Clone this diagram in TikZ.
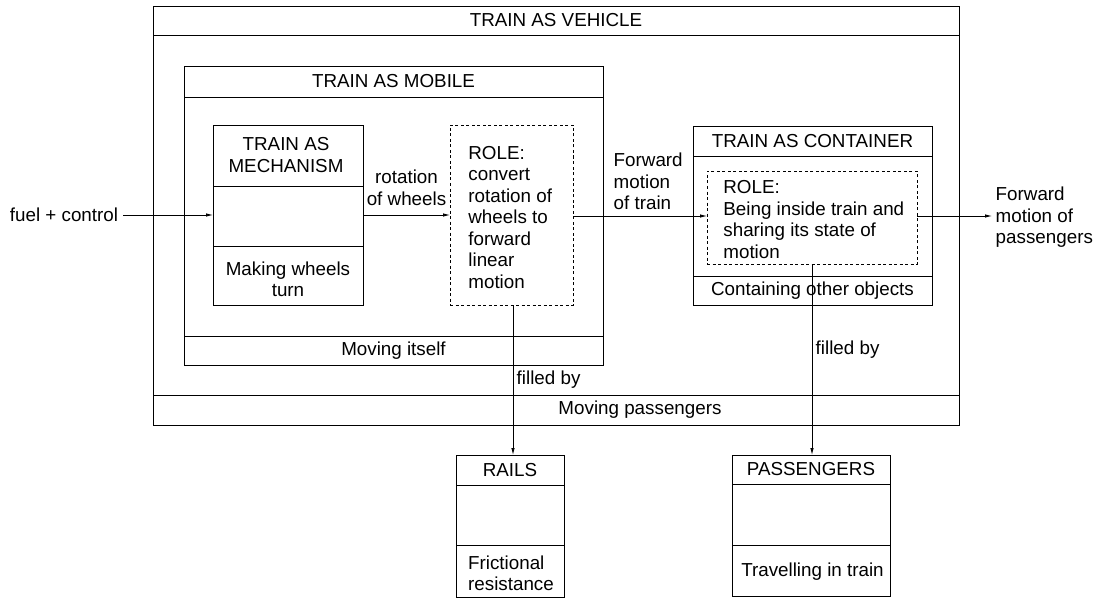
\documentclass[tikz,border=0pt]{standalone}
\usepackage{fontspec}
\setmainfont{Liberation Sans}
\usetikzlibrary{arrows.meta}

\begin{document}
\begin{tikzpicture}[x=1pt,y=-1pt,line width=0.8pt,
    font=\fontsize{18.8}{21.5}\selectfont,
    box/.style 2 args={draw, minimum width=#1, minimum height=#2, inner sep=0pt, outer sep=0pt},
    rolebox/.style 2 args={box={#1}{#2}, dash pattern=on 3pt off 2.5pt},
    arr/.style={-{Latex[length=7pt,width=3.5pt]}}]
    \useasboundingbox (0,0) rectangle (1095,599);

    % Draw the frames
    \node[box={806}{419}] (vehicle) at (556,215.5) {};
    \node[box={419}{299}] (mobile) at (393.5,215.5) {};
    \node[box={150}{180}] (mech) at (288,215) {};
    \node[rolebox={123}{180}] (mobrole) at (511.5,215) {};
    \node[box={239}{179}] (container) at (812.5,215.5) {};
    \node[rolebox={210}{93}] (conrole) at (812,217.5) {};
    \node[box={108}{142}] (rails) at (510,526) {};
    \node[box={158}{141}] (passengers) at (811,525.5) {};

    % Draw the dividers
    \foreach \b/\y in {vehicle/35, vehicle/395, mobile/97, mobile/336, mech/186, mech/246,
        container/156, container/276, rails/485, rails/545, passengers/484, passengers/545}
        \draw (\b.west |- 0,\y) -- (\b.east |- 0,\y);

    % Titles and roles
    \node (vehtitle) at (556,20.5) {TRAIN AS VEHICLE};
    \node (vehrole) at (640,410) {Moving passengers};
    \node (mobtitle) at (393.5,81.5) {TRAIN AS MOBILE};
    \node (mobfill) at (393.5,350.5) {Moving itself};
    \node[align=center] (mechtitle) at (286,155) {TRAIN AS\\MECHANISM};
    \node[align=center] (mechfill) at (288,279.5) {Making wheels\\turn};
    \node[anchor=west, align=left, inner sep=0pt] (mobroletext) at (468,217.5)
        {ROLE:\\convert\\rotation of\\wheels to\\forward\\linear\\motion};
    \node (contitle) at (812.5,141) {TRAIN AS CONTAINER};
    \node (confill) at (812.5,290.5) {Containing other objects};
    \node[anchor=west, align=left, inner sep=0pt] (conroletext) at (723,219.5)
        {ROLE:\\Being inside train and\\sharing its state of\\motion};
    \node (railtitle) at (510,470) {RAILS};
    \node[align=left] (railfill) at (511,573.5) {Frictional\\resistance};
    \node (passtitle) at (811,469.5) {PASSENGERS};
    \node (passfill) at (812.5,572) {Travelling in train};

    % Inputs and outputs
    \node[inner sep=5pt] (fuel) at (64,215) {fuel + control};
    \node[anchor=west, align=left] (fwdpass) at (992,217.5) {Forward\\motion of\\passengers};

    % Draw the connectors
    \draw[arr] (fuel) -- (mech);
    \draw[arr] (mech) -- (mobrole) node[midway, above=6pt, align=center] {rotation\\of wheels};
    \draw[arr] (mobrole.east |- 0,216) -- (conrole.west |- 0,216);
    \node[anchor=west, align=left] (fwdtrain) at (610,181.5) {Forward\\motion\\of train};
    \draw[arr] (conrole.east |- 0,216) -- (fwdpass.west |- 0,216);
    \draw[arr] (mobrole.south -| 513,0) -- (rails.north -| 513,0) node[pos=.5, anchor=west] {filled by};
    \draw[arr] (conrole.south) -- (conrole.south |- passengers.north) node[pos=.45, anchor=west] {filled by};
\end{tikzpicture}
\end{document}
